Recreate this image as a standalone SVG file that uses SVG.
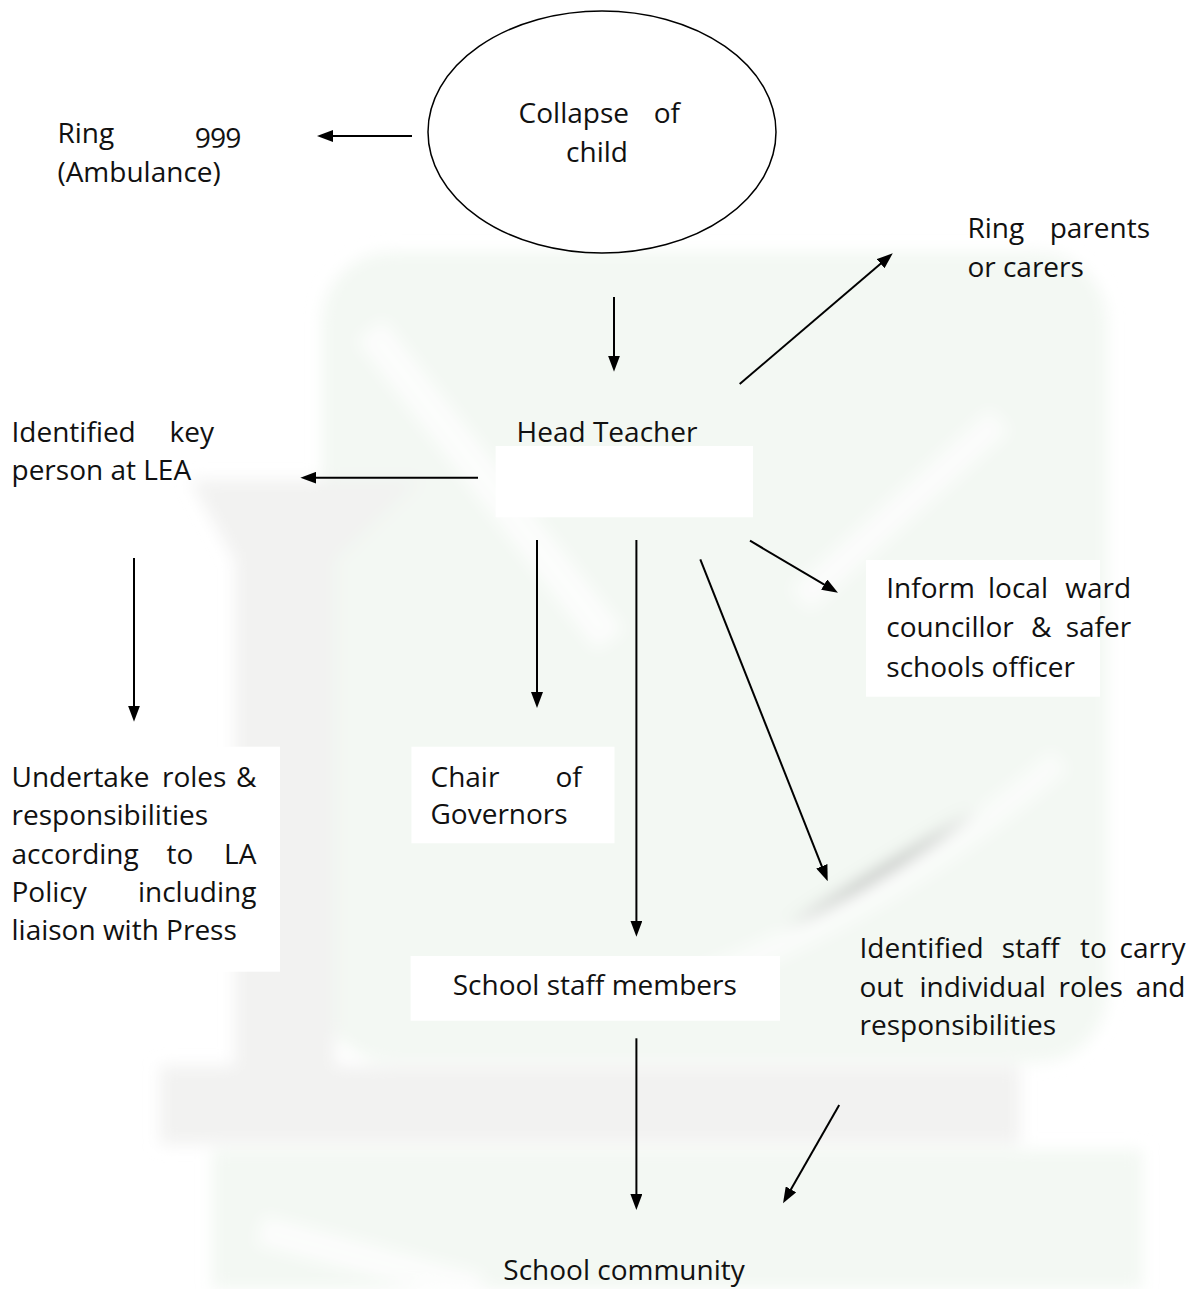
<svg xmlns="http://www.w3.org/2000/svg" width="1200" height="1289" viewBox="0 0 1200 1289">
  <style>
    .t { font-family: "Open Sans", "Noto Sans", sans-serif; font-size: 28px; fill: #111; font-variant-numeric: oldstyle-nums; }
    .e { text-anchor: end; }
    .m { text-anchor: middle; }
    .link { stroke: #000; stroke-width: 2; fill: none; marker-end: url(#head); }
    .pad { fill: #fff; }
  </style>
  <defs>
    <marker id="head" markerUnits="userSpaceOnUse" markerWidth="16" markerHeight="12" refX="10" refY="6" orient="auto">
      <path d="M0,0 L16,6 L0,12 z" fill="#000"/>
    </marker>
    <filter id="soft" x="-10%" y="-10%" width="120%" height="120%">
      <feGaussianBlur stdDeviation="8"/>
    </filter>
  </defs>

  <rect width="1200" height="1289" fill="#fff"/>

  <!-- faint background emblem -->
  <g id="emblem" filter="url(#soft)">
    <rect x="322" y="252" width="785" height="810" rx="70" fill="#f3f8f3"/>
    <path d="M190,480 L420,480 L335,560 L335,1070 L235,1070 L235,560 Z" fill="#f2f2f1"/>
    <rect x="160" y="1066" width="860" height="78" fill="#f2f2f1"/>
    <rect x="212" y="1150" width="930" height="139" fill="#f3f8f3"/>
    <path d="M370,330 L610,640" stroke="#fff" stroke-width="34" opacity="0.8"/>
    <path d="M800,600 L1000,420" stroke="#fff" stroke-width="30" opacity="0.7"/>
    <path d="M700,980 Q900,900 1060,760" stroke="#fff" stroke-width="26" opacity="0.6"/>
    <path d="M260,1230 L480,1289" stroke="#fff" stroke-width="30" opacity="0.8"/>
  </g>

  <!-- connectors -->
  <g id="connectors">
    <line class="link" x1="412" y1="136" x2="323" y2="136"/>
    <line class="link" x1="614" y1="297" x2="614" y2="365.7"/>
    <line class="link" x1="739.7" y1="384" x2="888.2" y2="257.2"/>
    <line class="link" x1="478" y1="477.7" x2="306.4" y2="477.7"/>
    <line class="link" x1="134" y1="558" x2="134" y2="715.7"/>
    <line class="link" x1="537" y1="540" x2="537" y2="702"/>
    <line class="link" x1="636.4" y1="540" x2="636.4" y2="930.7"/>
    <line class="link" x1="750" y1="540.7" x2="832.8" y2="589.6"/>
    <line class="link" x1="700.3" y1="559.3" x2="825.5" y2="875.6"/>
    <line class="link" x1="636.4" y1="1038.3" x2="636.4" y2="1204"/>
    <line class="link" x1="839.2" y1="1105" x2="786" y2="1198.1"/>
  </g>

  <!-- nodes -->
  <g id="collapse">
    <ellipse cx="602" cy="132" rx="174" ry="121" fill="#fff" stroke="#000" stroke-width="1.5"/>
    <text class="t" x="518.6" y="123">Collapse</text>
    <text class="t e" x="680" y="123">of</text>
    <text class="t m" x="597" y="161.7">child</text>
  </g>

  <g id="ring999">
    <text class="t" x="57.4" y="143.3">Ring</text>
    <text class="t e" x="241" y="143.3">999</text>
    <text class="t" x="57.4" y="181.7">(Ambulance)</text>
  </g>

  <g id="parents">
    <text class="t" x="967.4" y="238">Ring</text>
    <text class="t e" x="1150" y="238">parents</text>
    <text class="t" x="967.4" y="276.7">or carers</text>
  </g>

  <g id="head-teacher">
    <rect class="pad" x="495.6" y="446" width="257.4" height="71.3"/>
    <text class="t" x="516.6" y="441.7">Head Teacher</text>
  </g>

  <g id="lea">
    <text class="t" x="11.5" y="441.7">Identified</text>
    <text class="t e" x="214" y="441.7">key</text>
    <text class="t" x="11.5" y="480">person at LEA</text>
  </g>

  <g id="undertake">
    <rect class="pad" x="0" y="746.7" width="280" height="225"/>
    <text class="t" x="11.5" y="786.7">Undertake</text>
    <text class="t" x="162" y="786.7">roles</text>
    <text class="t e" x="256.4" y="786.7">&amp;</text>
    <text class="t" x="11.5" y="825">responsibilities</text>
    <text class="t" x="11.5" y="863.5">according</text>
    <text class="t" x="166.5" y="863.5">to</text>
    <text class="t e" x="256.4" y="863.5">LA</text>
    <text class="t" x="11.5" y="902">Policy</text>
    <text class="t e" x="256.4" y="902">including</text>
    <text class="t" x="11.5" y="940">liaison with Press</text>
  </g>

  <g id="chair">
    <rect class="pad" x="411.4" y="746.7" width="203.1" height="96.6"/>
    <text class="t" x="430.5" y="786.7">Chair</text>
    <text class="t e" x="581.7" y="786.7">of</text>
    <text class="t" x="430.5" y="824">Governors</text>
  </g>

  <g id="councillor">
    <rect class="pad" x="866" y="560" width="234" height="136.7"/>
    <text class="t" x="886.3" y="598.3">Inform</text>
    <text class="t" x="988" y="598.3">local</text>
    <text class="t e" x="1131.2" y="598.3">ward</text>
    <text class="t" x="886.3" y="637.3">councillor</text>
    <text class="t" x="1031" y="637.3">&amp;</text>
    <text class="t e" x="1131.2" y="637.3">safer</text>
    <text class="t" x="886.3" y="676.7">schools officer</text>
  </g>

  <g id="staff-members">
    <rect class="pad" x="410.6" y="956" width="369.4" height="64.7"/>
    <text class="t" x="452.7" y="995">School staff members</text>
  </g>

  <g id="identified-staff">
    <text class="t" x="859.5" y="958.3">Identified</text>
    <text class="t" x="1001.8" y="958.3">staff</text>
    <text class="t" x="1080" y="958.3">to</text>
    <text class="t e" x="1185.5" y="958.3">carry</text>
    <text class="t" x="859.5" y="996.7">out</text>
    <text class="t" x="919.5" y="996.7">individual</text>
    <text class="t" x="1058.5" y="996.7">roles</text>
    <text class="t e" x="1185.5" y="996.7">and</text>
    <text class="t" x="859.5" y="1035">responsibilities</text>
  </g>

  <g id="community">
    <text class="t" x="503.3" y="1280">School community</text>
  </g>
</svg>
